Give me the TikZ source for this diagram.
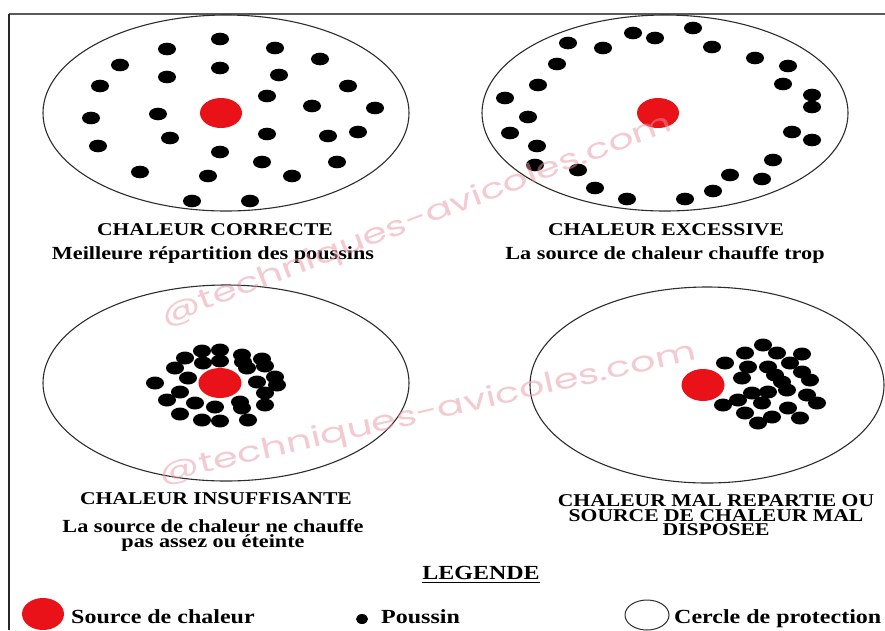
\documentclass[tikz,border=0pt]{standalone}
\usepackage{fontspec}
\setmainfont{Liberation Serif}[FakeStretch=1.2]
\newfontfamily\wmfont{Poppins}
\usepackage{graphicx}
\definecolor{srcred}{RGB}{232,18,24}
\definecolor{ringgray}{RGB}{45,45,45}
\definecolor{framegray}{RGB}{90,90,90}
\definecolor{wmpink}{RGB}{232,150,165}
\begin{document}
\begin{tikzpicture}[x=1pt,y=-1pt,
  ring/.style={draw=ringgray,line width=1.1pt},
  source/.style={fill=srcred},
  chick/.style={fill=black},
  title/.style={inner sep=0pt,anchor=base,font=\bfseries\fontsize{18}{18}\selectfont},
  subtitle/.style={inner sep=0pt,anchor=base,font=\bfseries\fontsize{18.5}{18.5}\selectfont},
  legtext/.style={inner sep=0pt,anchor=base west,font=\bfseries\fontsize{20}{20}\selectfont},
  watermark/.style={inner sep=0pt,text=wmpink,text opacity=0.5,font=\wmfont\fontsize{28}{28}\selectfont}]
\useasboundingbox (0,0) rectangle (885,630);
\fill[white] (0,0) rectangle (885,630);
% frame
\draw[framegray,line width=1.5pt] (9,14) -- (885,14);
\draw[black!85,line width=1.2pt] (9,14) -- (9,630);

% ---- circle 1 : chaleur correcte
\draw[ring] (226,113) ellipse [x radius=183,y radius=98];
\foreach \x/\y in {220/39,167/49,275/48,320/59,120/65,220/68,167/77,279/75,100/86,348/86,267/96,312/106,375/108,91/118,158/114,170/138,267/134,328/136,358/132,98/146,220/152,262/162,337/162,140/172,208/176,292/176,192/201,250/201}
  \fill[chick] (\x,\y) ellipse [x radius=9,y radius=6.3];
\fill[source] (221,113) ellipse [x radius=21,y radius=15];
\node[title] (t1) at (215,235.5) {CHALEUR CORRECTE};
\node[subtitle] (s1) at (213,259) {Meilleure répartition des poussins};

% ---- circle 2 : chaleur excessive
\draw[ring] (665,113) ellipse [x radius=183,y radius=98];
\foreach \x/\y in {693/28,633/33,655/38,568/43,603/48,712/47,755/58,788/66,557/64,538/85,783/84,812/95,812/107,505/98,528/117,510/133,792/132,812/140,537/146,773/160,535/165,578/170,730/175,762/179,595/188,713/191,627/199,685/199}
  \fill[chick] (\x,\y) ellipse [x radius=9,y radius=6.3];
\fill[source] (658,113) ellipse [x radius=21,y radius=15];
\node[title] (t2) at (666,235.5) {CHALEUR EXCESSIVE};
\node[subtitle] (s2) at (665,259) {La source de chaleur chauffe trop};

% ---- circle 3 : chaleur insuffisante
\draw[ring] (226,383) ellipse [x radius=183,y radius=98];
\foreach \x/\y in {202/351,220/350,185/358,203/363,220/361,242/355,243/362,262/359,265/366,247/368,175/368,188/378,155/383,257/382,275/377,277/385,180/392,265/393,167/400,195/403,215/407,240/402,242/408,265/405,180/414,202/420,220/421,248/420}
  \fill[chick] (\x,\y) ellipse [x radius=9,y radius=6.5];
\fill[source] (220,383) ellipse [x radius=21.5,y radius=15];
\node[title] (t3) at (216,504) {CHALEUR INSUFFISANTE};
\node[subtitle] (s3a) at (213,532) {La source de chaleur ne chauffe};
\node[subtitle] (s3b) at (213,547) {pas assez ou éteinte};

% ---- circle 4 : chaleur mal repartie
\draw[ring] (707,385) ellipse [x radius=177,y radius=98];
\foreach \x/\y in {763/345,745/353,777/353,802/354,725/363,748/367,768/367,790/363,802/372,742/378,775/375,782/382,810/380,752/393,768/392,787/390,738/400,807/395,817/403,723/405,762/403,788/408,745/413,772/417,800/418,758/423}
  \fill[chick] (\x,\y) ellipse [x radius=9,y radius=6.5];
\fill[source] (703,385) ellipse [x radius=21.5,y radius=16];
\node[title] (t4a) at (716,506) {CHALEUR MAL REPARTIE OU};
\node[title] (t4b) at (716,521) {SOURCE DE CHALEUR MAL};
\node[title] (t4c) at (716,535) {DISPOSEE};

% ---- legend
\node[title,font=\bfseries\fontsize{20}{20}\selectfont] (leg) at (481,579) {LEGENDE};
\draw[black,line width=0.9pt] ([yshift=-3pt]leg.base west) -- ([yshift=-3pt]leg.base east);
\fill[source] (43,614) ellipse [x radius=21,y radius=16];
\node[legtext] (lsrc) at (71,623) {Source de chaleur};
\fill[chick] (362,619) ellipse [x radius=6,y radius=5];
\node[legtext] (lchick) at (381,623) {Poussin};
\draw[ring,line width=1pt] (647,615) ellipse [x radius=22,y radius=15];
\node[legtext] (lring) at (674,623) {Cercle de protection};

% ---- watermarks
\node[watermark,rotate=21] (wm1) at (417,221) {\resizebox{545pt}{\height}{@techniques-avicoles.com}};
\node[watermark,rotate=13] (wm2) at (428,414) {\resizebox{550pt}{\height}{@techniques-avicoles.com}};
\end{tikzpicture}
\end{document}
